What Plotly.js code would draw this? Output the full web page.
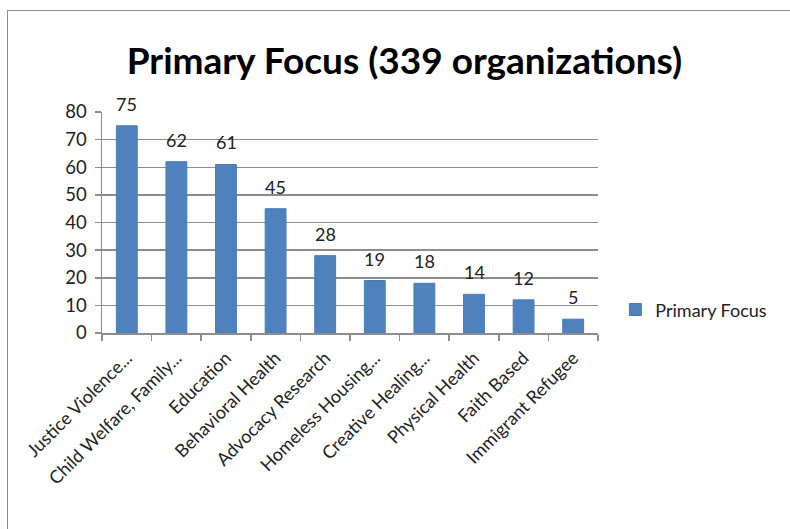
<!DOCTYPE html>
<html>
<head>
<meta charset="utf-8">
<script src="https://cdn.plot.ly/plotly-3.0.1.min.js"></script>
<style>
  html, body { margin: 0; padding: 0; width: 790px; height: 529px; overflow: hidden; background: #fff; }
  #chart { position: absolute; left: 0; top: 0; width: 790px; height: 529px; }
  #frame { position: absolute; left: 7px; top: 10px; width: 800px; height: 540px; border: 1.5px solid #8c8c8c; pointer-events: none; }
</style>
</head>
<body>
<div id="chart"></div>
<div id="frame"></div>
<script>
const categories = ["Justice Violence...", "Child Welfare, Family...", "Education", "Behavioral Health", "Advocacy Research", "Homeless Housing...", "Creative Healing...", "Physical Health", "Faith Based", "Immigrant Refugee"];
const values = [75, 62, 61, 45, 28, 19, 18, 14, 12, 5];
const seriesName = "Primary Focus";
const titleText = "Primary Focus (339 organizations)";
const yTicks = [0, 10, 20, 30, 40, 50, 60, 70, 80];

const font = "Lato, Open Sans, sans-serif";

const valueLabels = categories.map((c, i) => ({
  x: c, y: values[i], xref: "x", yref: "y",
  text: String(values[i]), showarrow: false,
  yanchor: "bottom", yshift: 9,
  font: { family: font, size: 18, color: "#222" }
}));

Plotly.newPlot("chart", [{
  type: "bar",
  x: categories,
  y: values,
  name: seriesName,
  marker: { color: "#4f81bd", line: { color: "#4a7ab5", width: 1 } },
  showlegend: true
}], {
  width: 790, height: 529,
  margin: { l: 102, r: 192, t: 112, b: 196 },
  paper_bgcolor: "#fff", plot_bgcolor: "#fff",
  title: { text: "<b>" + titleText + "</b>", font: { family: font, size: 37, color: "#000" }, x: 0.512, xanchor: "center", y: 0.885, yanchor: "middle" },
  bargap: 0.58,
  annotations: valueLabels,
  xaxis: {
    type: "category",
    tickangle: -45,
    tickson: "boundaries",
    ticks: "outside", ticklen: 6, tickcolor: "#8c8c8c", tickwidth: 1.5,
    showline: true, linecolor: "#8c8c8c", linewidth: 1.5,
    tickfont: { family: font, size: 18, color: "#222" },
    ticklabelstandoff: 6,
    showgrid: false
  },
  yaxis: {
    range: [0, 80],
    tickvals: yTicks,
    ticks: "outside", ticklen: 6, tickcolor: "#8c8c8c", tickwidth: 1.5,
    showline: true, linecolor: "#8c8c8c", linewidth: 1.5,
    gridcolor: "#8c8c8c", gridwidth: 1.5,
    zeroline: false,
    ticklabelstandoff: 4,
    tickfont: { family: font, size: 18.5, color: "#222" }
  },
  legend: { x: 1.035, xanchor: "left", y: 0.105, yanchor: "middle", font: { family: font, size: 18, color: "#222" }, itemwidth: 30 },
  showlegend: true
}, { displayModeBar: false, staticPlot: true });
</script>
</body>
</html>
